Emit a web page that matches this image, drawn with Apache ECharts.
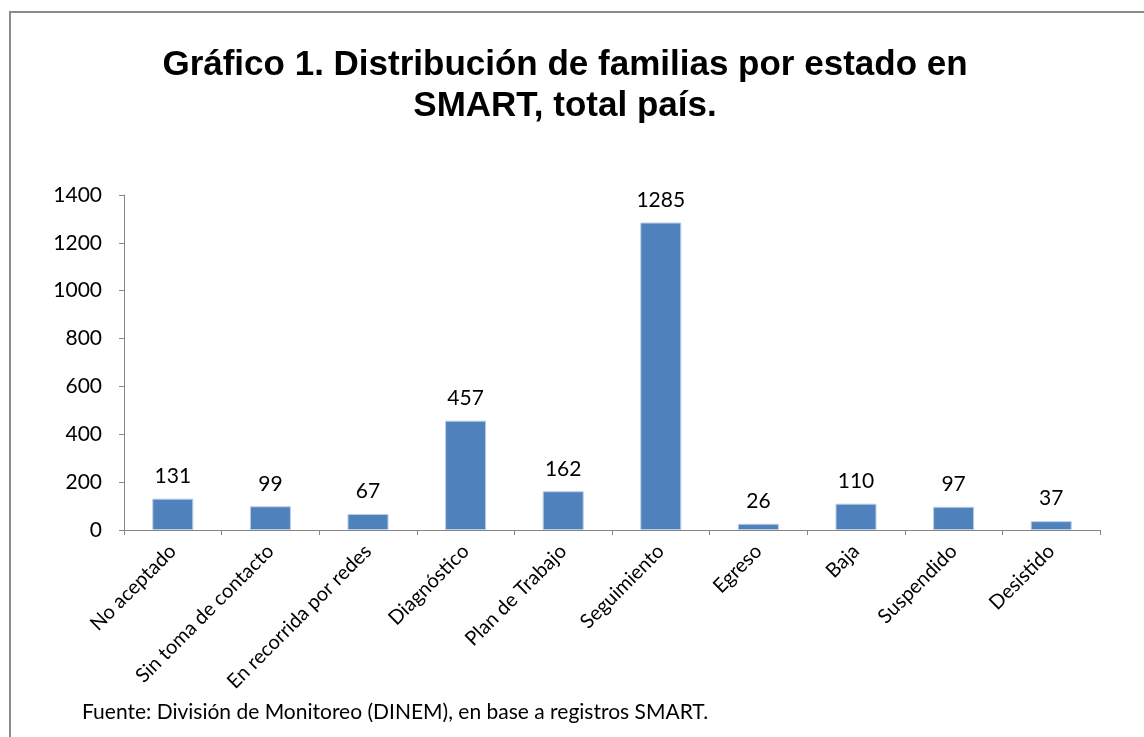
<!DOCTYPE html>
<html>
<head>
<meta charset="utf-8">
<script src="https://cdn.jsdelivr.net/npm/echarts@6/dist/echarts.min.js"></script>
<style>
  html, body { margin: 0; padding: 0; background: #fff; }
  #chart { width: 1144px; height: 737px; }
</style>
</head>
<body>
<div id="chart"></div>
<script>
const categories = [
  "No aceptado", "Sin toma de contacto", "En recorrida por redes", "Diagnóstico",
  "Plan de Trabajo", "Seguimiento", "Egreso", "Baja", "Suspendido", "Desistido"
];
const familias = [131, 99, 67, 457, 162, 1285, 26, 110, 97, 37];
const yTicks = [0, 200, 400, 600, 800, 1000, 1200, 1400];

const FONT = "Lato, 'Open Sans', sans-serif";
const AXIS_GRAY = "#868686";

const chart = echarts.init(document.getElementById("chart"), null, { renderer: "canvas" });

chart.setOption({
  backgroundColor: "#fff",
  animation: false,
  title: [
    {
      text: "Gráfico 1. Distribución de familias por estado en\nSMART, total país.",
      left: 560,
      top: 40,
      textAlign: "center",
      textStyle: {
        fontFamily: "'Liberation Sans', Arial, sans-serif",
        fontWeight: "bold",
        fontSize: 35,
        lineHeight: 41,
        color: "#000"
      }
    },
    {
      text: "Fuente: División de Monitoreo (DINEM), en base a registros SMART.",
      left: 77,
      top: 697,
      textStyle: { fontFamily: FONT, fontWeight: "normal", fontSize: 21, color: "#000" }
    }
  ],
  graphic: [
    {
      type: "rect",
      shape: { x: 10, y: 12, width: 1200, height: 800 },
      style: { fill: "none", stroke: "#8c8c8c", lineWidth: 2 },
      silent: true
    }
  ],
  grid: { left: 124, right: 44, top: 195, bottom: 207, containLabel: false },
  xAxis: {
    type: "category",
    data: categories,
    boundaryGap: true,
    axisLine: { lineStyle: { color: AXIS_GRAY, width: 1 } },
    axisTick: { show: true, alignWithLabel: false, length: 5, lineStyle: { color: AXIS_GRAY } },
    axisLabel: {
      interval: 0,
      rotate: 45,
      margin: 18,
      fontFamily: FONT,
      fontSize: 20,
      color: "#000"
    }
  },
  yAxis: {
    type: "value",
    min: yTicks[0],
    max: yTicks[yTicks.length - 1],
    interval: 200,
    splitLine: { show: false },
    axisLine: { show: true, lineStyle: { color: AXIS_GRAY, width: 1 } },
    axisTick: { show: true, length: 5, lineStyle: { color: AXIS_GRAY } },
    axisLabel: {
      margin: 22,
      fontFamily: FONT,
      fontSize: 21,
      color: "#000",
      formatter: (v) => String(v)
    }
  },
  series: [
    {
      type: "bar",
      data: familias,
      barWidth: "42%",
      itemStyle: { color: "#4f81bd", borderColor: "#b9cde5", borderWidth: 1 },
      label: {
        show: true,
        position: "top",
        distance: 12,
        fontFamily: FONT,
        fontSize: 21,
        color: "#000"
      }
    }
  ]
});
</script>
</body>
</html>
